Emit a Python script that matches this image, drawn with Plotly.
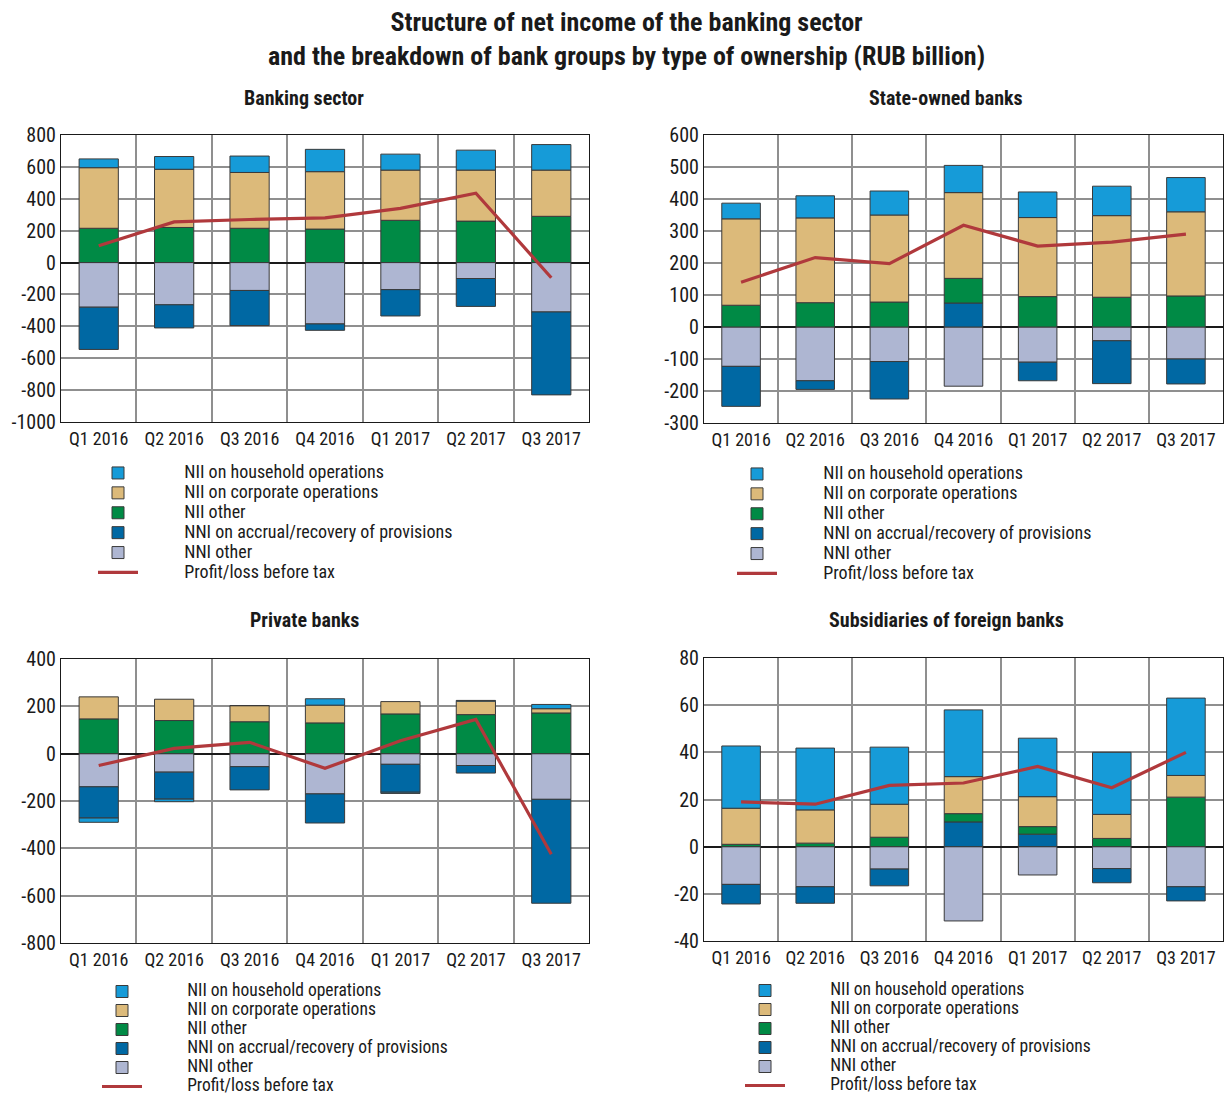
import plotly.graph_objects as go

categories = ["Q1 2016", "Q2 2016", "Q3 2016", "Q4 2016", "Q1 2017", "Q2 2017", "Q3 2017"]

series_names = [
    "NNI other",
    "NNI on accrual/recovery of provisions",
    "NII other",
    "NII on corporate operations",
    "NII on household operations",
]
profit_name = "Profit/loss before tax"

# Banking sector
bank_nni_other = [-280, -265, -175, -385, -170, -100, -310]
bank_accrual = [-265, -145, -220, -40, -165, -175, -520]
bank_nii_other = [215, 220, 215, 210, 265, 260, 290]
bank_corp = [380, 365, 350, 360, 315, 320, 290]
bank_hh = [55, 80, 103, 140, 100, 125, 160]
bank_profit = [105, 255, 270, 280, 340, 435, -95]
bank_ticks = [-1000, -800, -600, -400, -200, 0, 200, 400, 600, 800]

# State-owned banks
state_nni_other = [-123, -168, -108, -185, -110, -43, -100]
state_accrual = [-125, -27, -117, 75, -58, -134, -78]
state_nii_other = [68, 76, 78, 77, 95, 93, 97]
state_corp = [270, 265, 272, 268, 247, 255, 263]
state_hh = [49, 69, 75, 85, 80, 92, 107]
state_profit = [140, 217, 198, 318, 253, 265, 290]
state_ticks = [-300, -200, -100, 0, 100, 200, 300, 400, 500, 600]

# Private banks
priv_nni_other = [-140, -78, -55, -170, -45, -50, -193]
priv_accrual = [-132, -114, -98, -123, -118, -32, -439]
priv_nii_other = [147, 140, 135, 130, 168, 165, 172]
priv_corp = [93, 90, 68, 75, 52, 57, 18]
priv_hh = [-18, -11, 0, 27, -5, 3, 18]
priv_profit = [-50, 22, 48, -62, 55, 145, -425]
priv_ticks = [-800, -600, -400, -200, 0, 200, 400]

# Subsidiaries of foreign banks
sub_nni_other = [-16, -17, -9.5, -31.5, -12, -9.3, -17]
sub_accrual = [-8.3, -7, -7.1, 10.5, 5.3, -6, -6]
sub_nii_other = [1, 1.5, 4, 3.5, 3.2, 3.5, 21]
sub_corp = [15.3, 14.1, 14, 15.7, 12.7, 10.2, 9.2]
sub_hh = [26.4, 26.2, 24.2, 28.3, 24.8, 26.3, 32.8]
sub_profit = [19, 18, 26, 27, 34, 25, 40]
sub_ticks = [-40, -20, 0, 20, 40, 60, 80]

panel_titles = ["Banking sector", "State-owned banks", "Private banks", "Subsidiaries of foreign banks"]
main_title = "Structure of net income of the banking sector<br>and the breakdown of bank groups by type of ownership (RUB billion)"

panels = [
    [bank_nni_other, bank_accrual, bank_nii_other, bank_corp, bank_hh, bank_profit],
    [state_nni_other, state_accrual, state_nii_other, state_corp, state_hh, state_profit],
    [priv_nni_other, priv_accrual, priv_nii_other, priv_corp, priv_hh, priv_profit],
    [sub_nni_other, sub_accrual, sub_nii_other, sub_corp, sub_hh, sub_profit],
]
panel_ticks = [bank_ticks, state_ticks, priv_ticks, sub_ticks]

# ---- styling ----
OFF = 8  # default page body margin
W, H = 1232 - 2 * OFF, 1104 - 2 * OFF
FONT = "Roboto Condensed, Liberation Sans Narrow, DejaVu Sans Condensed, Roboto, sans-serif"
colors = ["#aeb6d2", "#0068a3", "#008a45", "#dcba7a", "#169bd8"]
ranks = [5, 4, 3, 2, 1]
line_color = "#b0393c"
NB = "\u00a0"

def px_x(p):
    return (p - OFF) / W

def px_y(p):
    return 1 - (p - OFF) / H

# plot areas in page pixels: left, right, top, bottom
areas = [
    (61, 589, 135, 422),
    (704, 1223, 135, 423),
    (61, 589, 659, 943),
    (704, 1223, 658, 941),
]
legend_pos = [(93, 458), (732, 459), (97, 977), (740, 976)]
legend_size = [13, 13, 12, 12]
legend_text = [18, 18, 17.5, 17.5]
legend_pad = [10, 10, 10, 10]
title_pos = [(304, 98), (946, 98), (304, 620), (946, 620)]

fig = go.Figure()

for i, data in enumerate(panels):
    sfx = "" if i == 0 else str(i + 1)
    xa, ya = "x" + sfx, "y" + sfx
    lg = "legend" + sfx
    pre = f'<span style="font-size:{legend_text[i]}px">' + NB * legend_pad[i]
    for j in range(5):
        fig.add_trace(go.Bar(
            x=categories, y=data[j], name=f'{pre}{series_names[j]}</span>',
            marker=dict(color=colors[j], line=dict(color="#3a3a3a", width=1)),
            width=0.52, xaxis=xa, yaxis=ya, legend=lg, legendrank=ranks[j],
        ))
    fig.add_trace(go.Scatter(
        x=categories, y=data[5], name=f'{pre}{profit_name}</span>',
        mode="lines", line=dict(color=line_color, width=3.2),
        xaxis=xa, yaxis=ya, legend=lg, legendrank=6,
    ))

layout = dict(
    width=W, height=H, margin=dict(l=0, r=0, t=0, b=0, pad=0, autoexpand=False),
    paper_bgcolor="white", plot_bgcolor="white",
    barmode="relative", showlegend=True,
    font=dict(family=FONT, size=19, color="#1a1a1a"),
)

for i, (l, r, t, b) in enumerate(areas):
    sfx = "" if i == 0 else str(i + 1)
    tv = panel_ticks[i]
    layout["xaxis" + sfx] = dict(
        domain=[px_x(l), px_x(r)], anchor="y" + sfx,
        type="category", tickson="boundaries", showgrid=True,
        gridcolor="#8f8f8f", gridwidth=2, tickangle=0,
        showline=True, linecolor="#1a1a1a", linewidth=1.2, mirror=True,
        ticks="", tickfont=dict(family=FONT, size=18, color="#1a1a1a"),
        fixedrange=True,
    )
    layout["yaxis" + sfx] = dict(
        domain=[px_y(b), px_y(t)], anchor="x" + sfx,
        range=[tv[0], tv[-1]], tickvals=tv, ticktext=[str(v) for v in tv],
        showgrid=True, gridcolor="#8f8f8f", gridwidth=2,
        zeroline=True, zerolinecolor="#1a1a1a", zerolinewidth=1.5,
        showline=True, linecolor="#1a1a1a", linewidth=1.2, mirror=True,
        ticks="", tickfont=dict(family=FONT, size=20, color="#1a1a1a"),
        fixedrange=True,
    )
    lx, ly = legend_pos[i]
    layout["legend" + sfx] = dict(
        x=px_x(lx), y=px_y(ly), xanchor="left", yanchor="top",
        bgcolor="rgba(0,0,0,0)", borderwidth=0, itemwidth=40,
        font=dict(family=FONT, size=legend_size[i], color="#1a1a1a"),
        traceorder="normal", tracegroupgap=0,
    )

annotations = []
for i, txt in enumerate(panel_titles):
    tx, ty = title_pos[i]
    annotations.append(dict(
        text=f"<b>{txt}</b>", x=px_x(tx), y=px_y(ty), xref="paper", yref="paper",
        xanchor="center", yanchor="middle", showarrow=False,
        font=dict(family=FONT, size=20, color="#1a1a1a"),
    ))
annotations.append(dict(
    text=f"<b>{main_title}</b>", x=px_x(626), y=px_y(38.5), xref="paper", yref="paper",
    xanchor="center", yanchor="middle", showarrow=False,
    font=dict(family=FONT, size=26, color="#1a1a1a"),
))
layout["annotations"] = annotations

fig.update_layout(**layout)

fig.write_html("out.html", config={"displayModeBar": False})
